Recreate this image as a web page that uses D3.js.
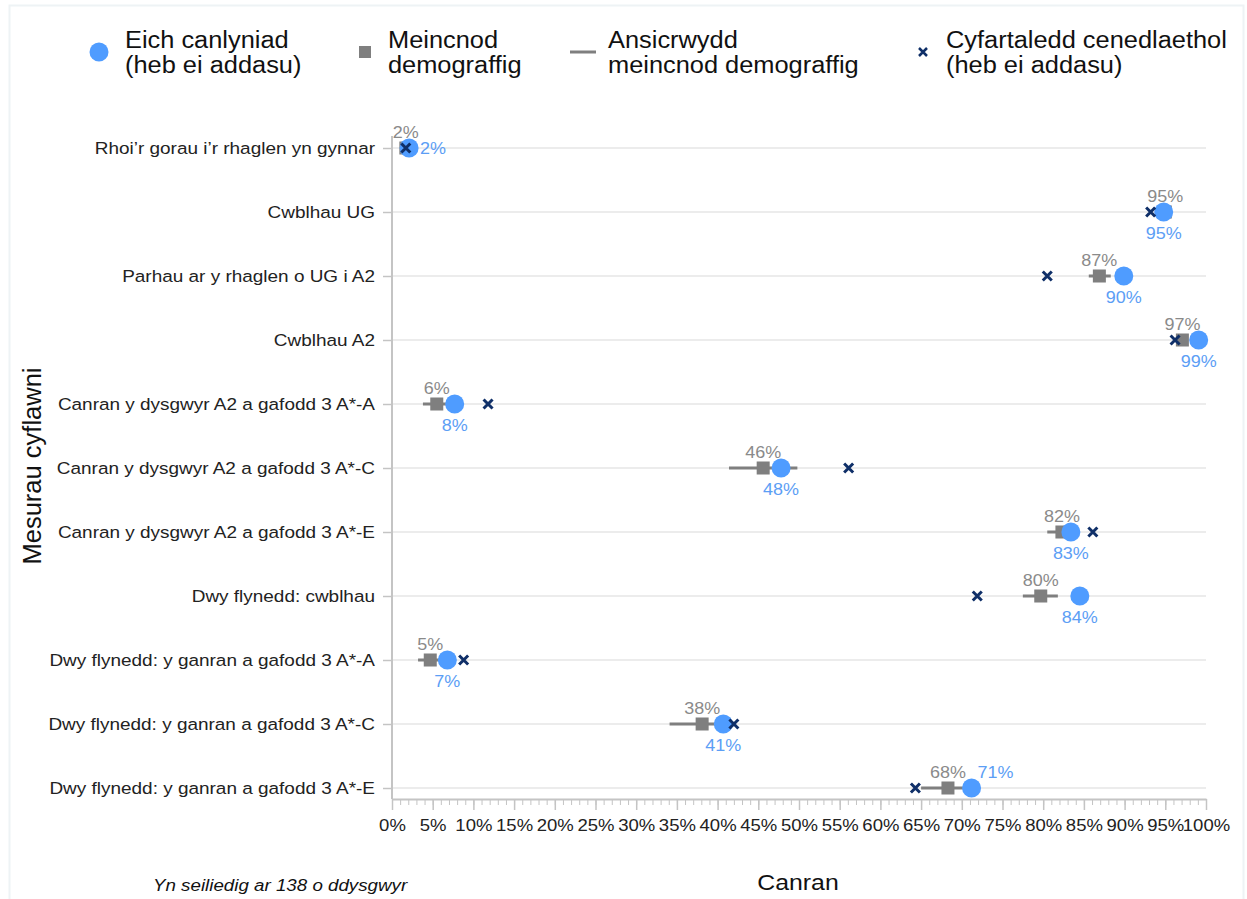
<!DOCTYPE html>
<html>
<head>
<meta charset="utf-8">
<script src="https://cdn.jsdelivr.net/npm/d3@7"></script>
<style>
  html, body { margin: 0; padding: 0; background: #fff; }
  svg { display: block; font-family: "Liberation Sans", Arial, sans-serif; }
</style>
</head>
<body>
<svg id="chart" width="1247" height="899"></svg>
<script>
// ---- Data ----
const categories = [
  "Rhoi’r gorau i’r rhaglen yn gynnar",
  "Cwblhau UG",
  "Parhau ar y rhaglen o UG i A2",
  "Cwblhau A2",
  "Canran y dysgwyr A2 a gafodd 3 A*-A",
  "Canran y dysgwyr A2 a gafodd 3 A*-C",
  "Canran y dysgwyr A2 a gafodd 3 A*-E",
  "Dwy flynedd: cwblhau",
  "Dwy flynedd: y ganran a gafodd 3 A*-A",
  "Dwy flynedd: y ganran a gafodd 3 A*-C",
  "Dwy flynedd: y ganran a gafodd 3 A*-E"
];
const yourResult      = [2.1, 94.8, 89.9, 99.1, 7.7, 47.8, 83.4, 84.5, 6.8, 40.7, 71.2];
const benchmark       = [1.7, 95.0, 86.9, 97.1, 5.5, 45.6, 82.3, 79.7, 4.7, 38.1, 68.3];
const benchmarkLow    = [1.5, 94.5, 85.6, 96.5, 3.8, 41.4, 80.5, 77.5, 3.2, 34.1, 65.0];
const benchmarkHigh   = [2.0, 95.5, 88.3, 97.7, 7.0, 49.8, 84.0, 81.8, 6.0, 41.0, 71.0];
const nationalAverage = [1.7, 93.2, 80.5, 96.2, 11.8, 56.1, 86.1, 71.9, 8.8, 42.0, 64.3];
const yourLabels      = ["2%","95%","90%","99%","8%","48%","83%","84%","7%","41%","71%"];
const benchLabels     = ["2%","95%","87%","97%","6%","46%","82%","80%","5%","38%","68%"];
const yourLabelPlace  = ["right","below","below","below","below","below","below","below","below","below","aboveRight"];
const xTicks = d3.range(0, 101, 5);
const xMinorTicks = d3.range(0, 101, 1);
const legendItems = [
  { key: "circle", lines: ["Eich canlyniad", "(heb ei addasu)"] },
  { key: "square", lines: ["Meincnod", "demograffig"] },
  { key: "line",   lines: ["Ansicrwydd", "meincnod demograffig"] },
  { key: "cross",  lines: ["Cyfartaledd cenedlaethol", "(heb ei addasu)"] }
];
const yTitle = "Mesurau cyflawni";
const xTitle = "Canran";
const footnote = "Yn seiliedig ar 138 o ddysgwyr";

// ---- Styles ----
const BLUE = "#4f9cff", BLUE_TXT = "#5c9ef5", GREY = "#7f7f7f", GREY_TXT = "#8a8a8a", NAVY = "#0f2f68";
const S = 1.09; // horizontal text stretch

function stretch(sel) {
  sel.each(function () {
    const t = d3.select(this);
    const xv = +(t.attr("x") || 0);
    t.attr("x", xv / S).attr("transform", `scale(${S},1)`);
  });
}

const svg = d3.select("#chart");

// faint frame
svg.append("path")
  .attr("d", "M9.5,899 V5.5 H1243.5 V899")
  .attr("fill", "none").attr("stroke", "#eef3f5").attr("stroke-width", 2);

const plot = { left: 392, right: 1206, top: 136, bottom: 799 };
const x = d3.scaleLinear().domain([0, 100]).range([plot.left, plot.right]);
const y = d3.scalePoint().domain(categories).range([148, 788]);

// gridlines
svg.append("g").selectAll("line").data(categories).join("line")
  .attr("x1", plot.left).attr("x2", plot.right)
  .attr("y1", d => y(d)).attr("y2", d => y(d))
  .attr("stroke", "#ececec").attr("stroke-width", 2);

// x axis: minor ticks
const xg = svg.append("g").attr("transform", `translate(0,${plot.bottom})`);
xg.append("g").call(d3.axisBottom(x).tickValues(xMinorTicks).tickSize(6).tickFormat(""))
  .call(g => g.select(".domain").remove())
  .call(g => g.selectAll("line").attr("stroke", "#c4c4c4").attr("stroke-width", 1));
xg.append("g").call(d3.axisBottom(x).tickValues(xTicks).tickSize(11).tickSizeOuter(0).tickPadding(9)
    .tickFormat(d => d + "%"))
  .call(g => g.select(".domain").attr("stroke", "#c4c4c4").attr("stroke-width", 2))
  .call(g => g.selectAll("line").attr("stroke", "#c4c4c4").attr("stroke-width", 1.5))
  .call(g => g.selectAll("text").attr("fill", "#222").attr("font-size", 17)
    .attr("font-family", "'Liberation Sans', Arial, sans-serif").call(stretch));

// y axis
const yg = svg.append("g").attr("transform", `translate(${plot.left},0)`)
  .call(d3.axisLeft(y).tickSize(9).tickPadding(8).tickSizeOuter(0));
yg.select(".domain").attr("d", `M0,${plot.top}V${plot.bottom}`).attr("stroke", "#c4c4c4").attr("stroke-width", 2);
yg.selectAll("line").attr("stroke", "#c4c4c4").attr("stroke-width", 1.5);
yg.selectAll("text").attr("fill", "#222").attr("font-size", 17.4)
  .attr("font-family", "'Liberation Sans', Arial, sans-serif").call(stretch);

// marks
const rows = categories.map((c, i) => ({
  c, you: yourResult[i], bm: benchmark[i], lo: benchmarkLow[i], hi: benchmarkHigh[i],
  nat: nationalAverage[i], yl: yourLabels[i], bl: benchLabels[i], place: yourLabelPlace[i]
}));

const marks = svg.append("g");
// uncertainty lines
marks.selectAll(".ci").data(rows).join("line")
  .attr("x1", d => x(d.lo)).attr("x2", d => x(d.hi))
  .attr("y1", d => y(d.c)).attr("y2", d => y(d.c))
  .attr("stroke", GREY).attr("stroke-width", 3);
// benchmark squares
const sq = 13;
marks.selectAll(".bm").data(rows).join("rect")
  .attr("x", d => x(d.bm) - sq / 2).attr("y", d => y(d.c) - sq / 2)
  .attr("width", sq).attr("height", sq).attr("fill", GREY);
// your result circles
marks.selectAll(".you").data(rows).join("circle")
  .attr("cx", d => x(d.you)).attr("cy", d => y(d.c)).attr("r", 9.5).attr("fill", BLUE);
// national average crosses
const cr = 4.5;
marks.selectAll(".nat").data(rows).join("path")
  .attr("d", d => {
    const cx = x(d.nat), cy = y(d.c);
    return `M${cx - cr},${cy - cr}L${cx + cr},${cy + cr}M${cx - cr},${cy + cr}L${cx + cr},${cy - cr}`;
  })
  .attr("stroke", NAVY).attr("stroke-width", 3).attr("fill", "none");

// labels
marks.selectAll(".bl").data(rows).join("text")
  .attr("x", d => x(d.bm)).attr("y", d => y(d.c) - 10)
  .attr("text-anchor", "middle").attr("font-size", 16.5).attr("fill", GREY_TXT)
  .text(d => d.bl).call(stretch);
marks.selectAll(".yl").data(rows).join("text")
  .attr("x", d => d.place === "right" ? x(d.you) + 11 : d.place === "aboveRight" ? x(d.you) + 24 : x(d.you))
  .attr("y", d => d.place === "right" ? y(d.c) + 6 : d.place === "aboveRight" ? y(d.c) - 10 : y(d.c) + 27)
  .attr("text-anchor", d => d.place === "right" ? "start" : "middle")
  .attr("font-size", 16.5).attr("fill", BLUE_TXT)
  .text(d => d.yl).call(stretch);

// legend
const legendX = [99, 365, 583, 923];
const lg = svg.append("g");
legendItems.forEach((it, i) => {
  const cx = legendX[i], cy = 52;
  if (it.key === "circle") lg.append("circle").attr("cx", cx).attr("cy", cy).attr("r", 9.5).attr("fill", BLUE);
  if (it.key === "square") lg.append("rect").attr("x", cx - 6).attr("y", cy - 6).attr("width", 12).attr("height", 12).attr("fill", GREY);
  if (it.key === "line") lg.append("line").attr("x1", cx - 13).attr("x2", cx + 13).attr("y1", cy).attr("y2", cy).attr("stroke", GREY).attr("stroke-width", 3);
  if (it.key === "cross") lg.append("path")
    .attr("d", `M${cx - 4},${cy - 4}L${cx + 4},${cy + 4}M${cx - 4},${cy + 4}L${cx + 4},${cy - 4}`)
    .attr("stroke", NAVY).attr("stroke-width", 2.5);
  const tx = (cx + (it.key === "circle" ? 26 : it.key === "line" ? 25 : 23)) / S;
  const t = lg.append("text").attr("x", tx).attr("y", 48).attr("font-size", 23.3).attr("fill", "#111")
    .attr("transform", `scale(${S},1)`);
  it.lines.forEach((ln, j) => t.append("tspan").attr("x", tx).attr("dy", j === 0 ? 0 : 25).text(ln));
});

// titles
svg.append("text").attr("transform", "translate(41,466) rotate(-90)")
  .attr("text-anchor", "middle").attr("font-size", 25.5).attr("fill", "#111").text(yTitle);
svg.append("text").attr("x", 798).attr("y", 890)
  .attr("text-anchor", "middle").attr("font-size", 22.8).attr("fill", "#111").text(xTitle).call(stretch);
svg.append("text").attr("x", 153).attr("y", 891)
  .attr("font-size", 17.2).attr("font-style", "italic").attr("fill", "#111").text(footnote).call(stretch);
</script>
</body>
</html>
